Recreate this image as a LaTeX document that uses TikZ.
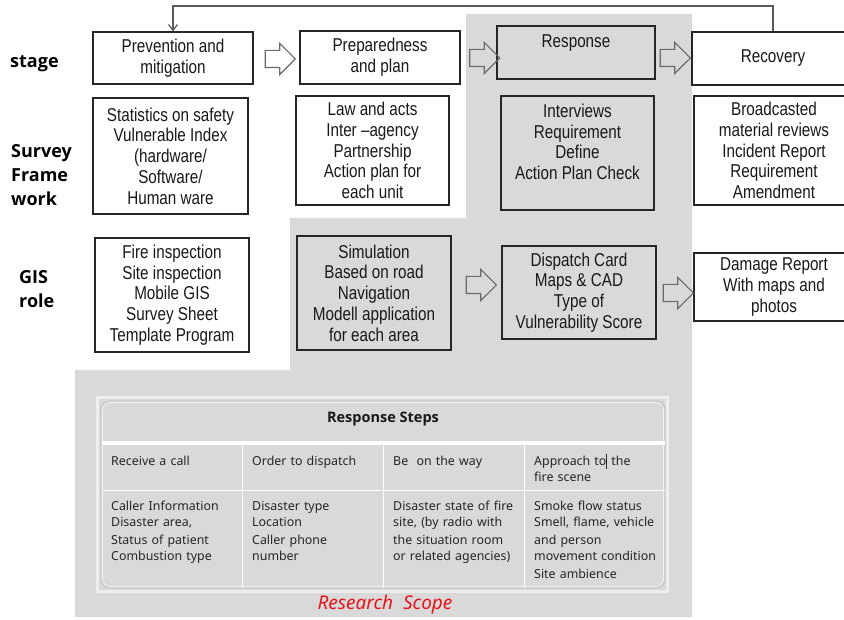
\documentclass[tikz,border=0pt]{standalone}
\usepackage{fontspec}
\setmainfont{Liberation Sans}
\newfontfamily\boxfont[FakeStretch=0.82]{Liberation Sans}
\newfontfamily\labfont{Open Sans}
\newfontfamily\tabfont{Noto Sans}
\usetikzlibrary{shapes.arrows,arrows.meta,calc}

\definecolor{bggray}{HTML}{D9D9D9}
\definecolor{boxline}{HTML}{262626}
\definecolor{arrline}{HTML}{6A6A6A}
\definecolor{tabtext}{HTML}{262626}
\definecolor{scopered}{HTML}{E8141B}

\newcommand\boxtxt{\boxfont\fontsize{18.6}{20.7}\selectfont}
\newcommand\labtxt{\labfont\bfseries\fontsize{18}{24}\selectfont}
\newcommand\tabtxt{\tabfont\fontsize{12.4}{17}\selectfont}

\tikzset{
  box/.style={draw=boxline, line width=1.1pt, fill=white, inner sep=0pt,
    align=center, font=\boxtxt, text=black!90},
  graybox/.style={box, fill=bggray},
  boxtext/.style={inner sep=0pt, align=center, font=\boxtxt, text=black!90},
  hollow/.style={shape=single arrow, draw=arrline, line width=1.1pt,
    inner xsep=0pt, inner ysep=8pt, single arrow head extend=7pt,
    minimum height=30pt},
  rowlabel/.style={inner sep=0pt, anchor=base west, align=left,
    text width=80pt, font=\labtxt, text=black},
  cell/.style={inner sep=0pt, anchor=base west, align=left,
    text width=132pt, font=\tabtxt, text=tabtext},
  feedback/.style={draw=black!65, line width=1.2pt,
    -{Straight Barb[length=6pt,width=9pt]}},
}

\begin{document}
\begin{tikzpicture}[x=1pt,y=-1pt]
\clip (0,0) rectangle (844,620);
\fill[white] (0,0) rectangle (844,620);

% research scope background
\fill[bggray] (466,14) -- (692,14) -- (692,617) -- (75,617) -- (75,370)
  -- (290,370) -- (290,218) -- (466,218) -- cycle;

% row labels
\node[rowlabel] (lstage) at (10,68) {stage};
\node[rowlabel] (lsurvey) at (11,158) {Survey\\Frame\\work};
\node[rowlabel] (lgis) at (19,283.5) {GIS\\role};

% stage row
\node[box, minimum width=160pt, minimum height=52pt] (prev) at (173,58)
  {Prevention and\\mitigation};
\node[box, minimum width=160pt, minimum height=53pt] (prep) at (380,57.5)
  {Preparedness\\and plan};
\node[graybox, minimum width=158pt, minimum height=53pt] (resp) at (576,52.5) {};
\node[boxtext] (resptxt) at (576,43) {Response};
\node[box, minimum width=162pt, minimum height=53pt] (rec) at (773,58.5) {Recovery};

\node[hollow] (a1) at (276,59) {};
\node[hollow] (a2) at (480.5,58) {};
\node[hollow] (a3) at (671,58) {};

% loop back from recovery to prevention
\coordinate (looptop) at (0,6);
\draw[feedback] (rec.north) -- (rec.north |- looptop) -| (prev.north);

% survey framework row
\node[box, minimum width=155pt, minimum height=116pt] (s1) at (170.5,156)
  {Statistics on safety\\Vulnerable Index\\(hardware/\\Software/\\Human ware};
\node[box, minimum width=153pt, minimum height=109pt] (s2) at (372.5,150.5)
  {Law and acts\\Inter –agency\\Partnership\\Action plan for\\each unit};
\node[graybox, minimum width=153pt, minimum height=114pt] (s3) at (577.5,153) {};
\node[boxtext] (s3txt) at (577.5,142)
  {Interviews\\Requirement\\Define\\Action Plan Check};
\node[box, minimum width=160pt, minimum height=109pt] (s4) at (774,150.5)
  {Broadcasted\\material reviews\\Incident Report\\Requirement\\Amendment};

% GIS role row
\node[box, minimum width=154pt, minimum height=114pt] (g1) at (172,295)
  {Fire inspection\\Site inspection\\Mobile GIS\\Survey Sheet\\Template Program};
\node[graybox, minimum width=154pt, minimum height=114pt] (g2) at (374,293)
  {Simulation\\Based on road\\Navigation\\Modell application\\for each area};
\node[graybox, minimum width=154pt, minimum height=93pt] (g3) at (579,292.5)
  {Dispatch Card\\Maps \& CAD\\Type of\\Vulnerability Score};
\node[box, minimum width=160pt, minimum height=68pt] (g4) at (774,287)
  {Damage Report\\With maps and\\photos};

\node[hollow] (a4) at (477,285) {};
\node[hollow] (a5) at (674,293) {};

% response steps table
\draw[draw=white!55!bggray, line width=3pt] (97.5,397.5) rectangle (667,591);
\draw[draw=black!24, line width=0.8pt, rounded corners=9pt] (101,401) rectangle (665,588);
\draw[draw=white!65!bggray, line width=0.8pt, rounded corners=8pt] (102.5,402.5) rectangle (663.5,586.5);
\draw[white, line width=3.5pt] (101.5,443) -- (664.5,443);
\draw[white, line width=1pt] (101.5,490) -- (664.5,490);
\foreach \cx in {242,383,524} {
  \draw[white, line width=1pt] (\cx,444) -- (\cx,587.5);
}
\node[inner sep=0pt, font=\labfont\bfseries\fontsize{14.5}{17}\selectfont, text=black!90]
  (ttitle) at (383,419) {Response Steps};

\node[cell] (h1) at (111,465) {Receive a call};
\node[cell] (h2) at (252,465) {Order to dispatch};
\node[cell] (h3) at (393,465) {Be~~on the way};
\node[cell] (h4) at (534,465)
  {Approach to\rule[-3.5pt]{0.9pt}{15pt} the\\fire scene};

\node[cell] (b1) at (111,510)
  {Caller Information\\Disaster area,\\Status of patient\\Combustion type};
\node[cell] (b2) at (252,510)
  {Disaster type\\Location\\Caller phone\\number};
\node[cell] (b3) at (393,510)
  {Disaster state of fire\\site, (by radio with\\the situation room\\or related agencies)};
\node[cell] (b4) at (534,510)
  {Smoke flow status\\Smell, flame, vehicle\\and person\\movement condition\\Site ambience};

\node[inner sep=0pt, font=\tabfont\itshape\fontsize{19}{22}\selectfont, text=scopered]
  (scope) at (385,605) {Research~ Scope};
\end{tikzpicture}
\end{document}
